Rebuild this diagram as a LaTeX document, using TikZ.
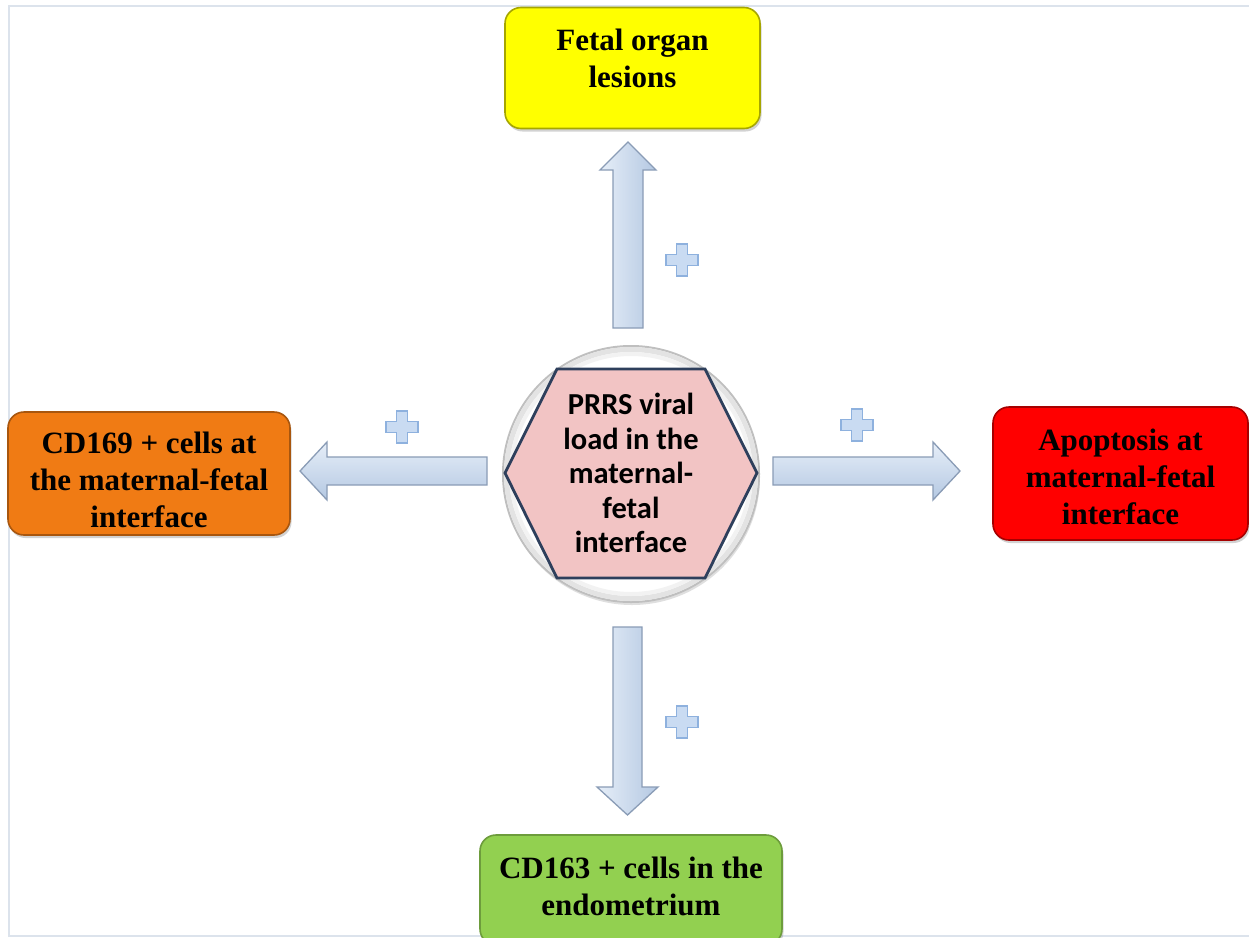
\documentclass[tikz,border=0pt]{standalone}
\usepackage{fontspec}
\setmainfont{Liberation Serif}
\newfontfamily\hexfont{Carlito}
\usetikzlibrary{shadows,calc}
\definecolor{framec}{HTML}{DCE3EC}
\definecolor{orangec}{HTML}{F07B14}
\definecolor{redc}{HTML}{FF0000}
\definecolor{yellowc}{HTML}{FFFF00}
\definecolor{greenc}{HTML}{92D050}
\definecolor{hexfill}{HTML}{F2C4C4}
\definecolor{hexedge}{HTML}{2E3F5C}
\definecolor{arrtop}{HTML}{E6EEF8}
\definecolor{arrbot}{HTML}{B4C8E2}
\definecolor{arredge}{HTML}{8A9CB6}
\definecolor{plusfill}{HTML}{C9DBF2}
\definecolor{plusedge}{HTML}{8EB1DE}
\tikzset{
  boxshape/.style={rounded corners=16pt, line width=1.6pt,
    drop shadow={opacity=0.35, shadow xshift=1.5pt, shadow yshift=-3pt}},
  boxtext/.style={align=center, font=\bfseries\fontsize{31}{37}\selectfont, text=black, inner sep=0pt},
  blockarrowh/.style={top color=arrtop, bottom color=arrbot, draw=arredge, line width=1.3pt, line join=miter},
  blockarrowv/.style={left color=arrtop, right color=arrbot, draw=arredge, line width=1.3pt, line join=miter},
  plusstyle/.style={fill=plusfill, draw=plusedge, line width=1.6pt},
  plussign/.pic={\path[plusstyle] (-5.5,-16)--(5.5,-16)--(5.5,-5.5)--(16,-5.5)--(16,5.5)--(5.5,5.5)--(5.5,16)--(-5.5,16)--(-5.5,5.5)--(-16,5.5)--(-16,-5.5)--(-5.5,-5.5)--cycle;}
}
\begin{document}
\begin{tikzpicture}[x=1pt,y=-1pt]
\useasboundingbox (0,0) rectangle (1249,937);
\fill[white] (0,0) rectangle (1249,937);
% frame
\draw[framec, line width=1.5pt] (9,937) -- (9,6) -- (1249,6);
\draw[framec, line width=1.5pt] (9,936) -- (1249,936);

% block arrows
\path[blockarrowv] (613,328) -- (613,170) -- (600,170) -- (628,142) -- (656,170) -- (643,170) -- (643,328) -- cycle;
\path[blockarrowv] (613,627) -- (613,787) -- (597,787) -- (627.5,815) -- (658,787) -- (642,787) -- (642,627) -- cycle;
\path[blockarrowh] (487,457) -- (327,457) -- (327,442) -- (300,471) -- (327,500) -- (327,485) -- (487,485) -- cycle;
\path[blockarrowh] (773,457) -- (933,457) -- (933,442) -- (960,471) -- (933,500) -- (933,485) -- (773,485) -- cycle;

% plus signs
\pic at (682,260) {plussign};
\pic at (682,722) {plussign};
\pic at (402,427) {plussign};
\pic at (857,425) {plussign};

% hub circle
\node[circle, minimum size=256pt, fill=white, draw=gray!50, line width=2pt,
  drop shadow={opacity=0.25, shadow xshift=1pt, shadow yshift=-3pt}] (hub) at (631,474) {};
\draw[gray!22, line width=5pt] (hub.center) circle[radius=124.5pt];
\draw[gray!10, line width=4pt] (hub.center) circle[radius=120pt];
\draw[hexedge, fill=hexfill, line width=2.8pt, line join=miter]
  (505,473) -- (557,369) -- (705,369) -- (757,473) -- (705,578) -- (557,578) -- cycle;
\node[align=center, font=\hexfont\bfseries\fontsize{30.5}{34.5}\selectfont, inner sep=0pt] (prrs) at (631,473)
  {PRRS viral\\load in the\\maternal-\\fetal\\interface};

% boxes
\node[boxshape, fill=yellowc, draw=yellowc!65!black, minimum width=255pt, minimum height=121pt] (fetal) at (632.5,68) {};
\node[boxtext] (fetalt) at (632.5,58.5) {Fetal organ\\lesions};

\node[boxshape, fill=orangec, draw=orangec!70!black, minimum width=282pt, minimum height=123pt] (cd169) at (149,473.5) {};
\node[boxtext] (cd169t) at (149,480) {CD169 + cells at\\the maternal-fetal\\interface};

\node[boxshape, fill=redc, draw=redc!65!black, minimum width=255pt, minimum height=133pt] (apop) at (1120.5,473.5) {};
\node[boxtext] (apopt) at (1120.5,476.5) {Apoptosis at\\maternal-fetal\\interface};

\node[boxshape, fill=greenc, draw=greenc!75!black, minimum width=302pt, minimum height=110pt] (cd163) at (631,890) {};
\node[boxtext] (cd163t) at (631,886) {CD163 + cells in the\\endometrium};
\end{tikzpicture}
\end{document}
